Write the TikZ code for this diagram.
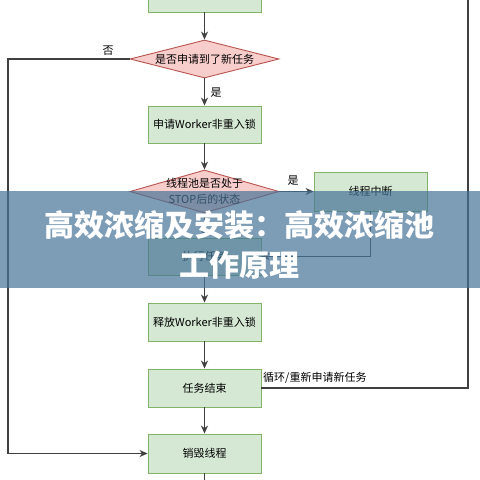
\documentclass[tikz,border=0pt]{standalone}
\usepackage{fontspec}
\newfontfamily\cjk{Noto Sans CJK SC}
\usetikzlibrary{shapes.geometric,arrows.meta}
\definecolor{boxfill}{HTML}{D5E8D4}
\definecolor{boxline}{HTML}{82B366}
\definecolor{diafill}{HTML}{F8CECC}
\definecolor{dialine}{HTML}{B85450}
\definecolor{conn}{HTML}{404040}
\definecolor{banner}{RGB}{70,115,150}
\tikzset{
  stepbox/.style={draw=boxline, fill=boxfill, line width=0.9pt, minimum width=113pt, minimum height=38pt, inner sep=0pt, font=\cjk\fontsize{11}{13}\selectfont},
  decision/.style={draw=dialine, fill=diafill, line width=0.9pt, diamond, minimum width=149pt, minimum height=38pt, inner sep=0pt},
  dtext/.style={font=\cjk\fontsize{11}{16}\selectfont, align=center},
  conn/.style={draw=conn, line width=1.1pt},
  arr/.style={conn, -{Stealth[length=8pt,width=7pt,inset=2.5pt]}},
  lbl/.style={font=\cjk\fontsize{11}{13}\selectfont, inner sep=0pt}
}
\begin{document}
\begin{tikzpicture}[x=1pt,y=-1pt]
\useasboundingbox (0,0) rectangle (480,480);
\fill[white] (0,0) rectangle (480,480);
\coordinate (leftx) at (8,0);
\coordinate (loopTop) at (468,-5);
\coordinate (bottomEnd) at (204.5,490);

\node[stepbox] (top) at (204.5,-7) {};
\node[decision, label={[dtext]center:是否申请到了新任务}] (d1) at (204.5,59) {};
\node[stepbox, minimum height=37pt] (b2) at (204.5,124.5) {申请Worker非重入锁};
\node[decision, minimum height=43pt, label={[dtext]center:线程池是否处于\\STOP后的状态}] (d2) at (204.5,191.5) {};
\node[stepbox, minimum height=39pt] (bint) at (370.5,191.5) {线程中断};
\node[stepbox, minimum height=37pt] (bexec) at (204.5,256.5) {执行任务};
\node[stepbox] (brel) at (204.5,322) {释放Worker非重入锁};
\node[stepbox] (bend) at (204.5,388) {任务结束};
\node[stepbox, minimum height=39pt] (bdes) at (204.5,453.5) {销毁线程};

\draw[arr] (top) -- (d1);
\draw[arr] (d1) -- (b2);
\draw[arr] (b2) -- (d2);
\draw[arr] (d2.east) -- (bint.west);
\draw[arr] (d2) -- (bexec);
\draw[arr] (bint.south) |- (bexec.east);
\draw[arr] (bexec) -- (brel);
\draw[arr] (brel) -- (bend);
\draw[arr] (bend) -- (bdes);
\draw[conn] (bend.east) -| (loopTop);
\draw[arr] (d1.west) -- (d1.west -| leftx) |- (bdes.west);
\draw[conn] (bdes.south) -- (bottomEnd);

\node[lbl] (lno) at (108,51) {否};
\node[lbl] (lyes1) at (216,93) {是};
\node[lbl] (lyes2) at (293,181) {是};
\node[lbl, anchor=west] (lloop) at (263,378) {循环/重新申请新任务};

\fill[banner, opacity=0.7] (0,191) rectangle (480,288);
\node[font=\cjk\bfseries\fontsize{30}{40}\selectfont, text=white, align=center, inner sep=0pt] (title) at (240,245) {高效浓缩及安装：高效浓缩池\\工作原理};
\end{tikzpicture}
\end{document}
